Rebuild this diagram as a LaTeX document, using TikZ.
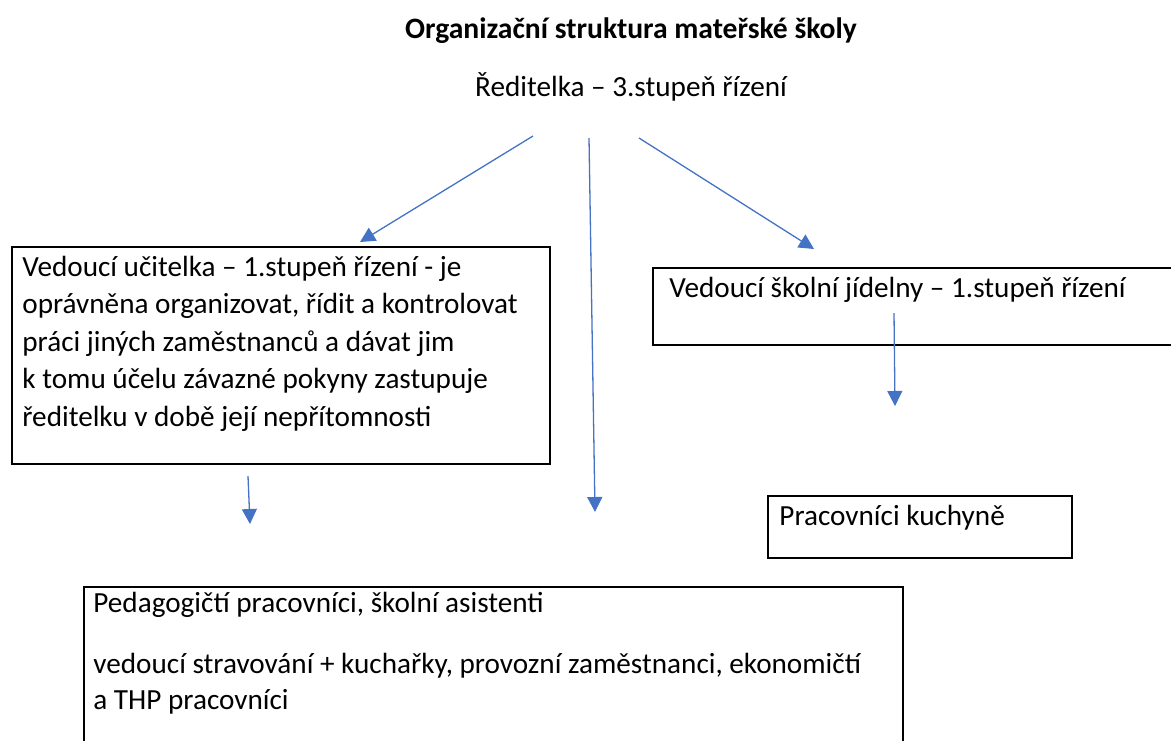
\documentclass[tikz,border=0pt]{standalone}
\usepackage{fontspec}
\setmainfont{Carlito}
\usetikzlibrary{arrows.meta,positioning}
\definecolor{linkblue}{HTML}{4472C4}
\tikzset{
  box/.style={draw=black,line width=1pt,anchor=north west,inner sep=0pt},
  txt/.style={font=\fontsize{14.6}{18.75}\selectfont,inner sep=0pt,align=left,anchor=base west},
  link/.style={draw=linkblue,line width=0.65pt,-{Triangle[length=7.5pt,width=7.5pt]}}
}

\begin{document}
\begin{tikzpicture}[x=0.5pt,y=-0.5pt]
\clip (0,0) rectangle (1171,740);

\node[font=\fontsize{14.8}{17}\selectfont\bfseries,inner sep=0pt,anchor=base] (title) at (631,38) {Organizační struktura mateřské školy};
\node[font=\fontsize{14.6}{17}\selectfont,inner sep=0pt,anchor=base] (red) at (631,96) {Ředitelka – 3.stupeň řízení};

%boxes
\node[box,minimum width=269pt,minimum height=108.5pt] (vu) at (11,246) {};
\node[box,minimum width=269pt,minimum height=38.5pt] (jid) at (652,267) {};
\node[box,minimum width=152pt,minimum height=31pt] (kuch) at (767,495) {};
\node[box,minimum width=409.5pt,minimum height=110pt] (ped) at (83,586) {};

% base of a multi-line node is its last line
\node[txt] (vutext) at (22,426) {Vedoucí učitelka – 1.stupeň řízení - je\\ oprávněna organizovat, řídit a kontrolovat\\ práci jiných zaměstnanců a dávat jim\\ k tomu účelu závazné pokyny zastupuje\\ ředitelku v době její nepřítomnosti};
\node[txt] (jidtext) at (669,297) {Vedoucí školní jídelny – 1.stupeň řízení};
\node[txt] (kuchtext) at (779,525) {Pracovníci kuchyně};
\node[txt,font=\fontsize{14.6}{18}\selectfont] (pedtext) at (93,709) {Pedagogičtí pracovníci, školní asistenti\\[12.5pt] vedoucí stravování + kuchařky, provozní zaměstnanci, ekonomičtí\\ a THP pracovníci};

%arrows
\coordinate (redL) at (533,136);
\coordinate (redM) at (589,138);
\coordinate (redR) at (639,138);
\coordinate (toVu) at (360,242);
\coordinate (toPed) at (595,512);
\coordinate (toJid) at (814,249);
\coordinate (vuOut) at (248,476);
\coordinate (vuDown) at (250,524);
\coordinate (jidOut) at (894,313);
\coordinate (jidDown) at (895,406);
\draw[link] (redL) -- (toVu);
\draw[link] (redM) -- (toPed);
\draw[link] (redR) -- (toJid);
\draw[link] (vuOut) -- (vuDown);
\draw[link] (jidOut) -- (jidDown);

\end{tikzpicture}
\end{document}
